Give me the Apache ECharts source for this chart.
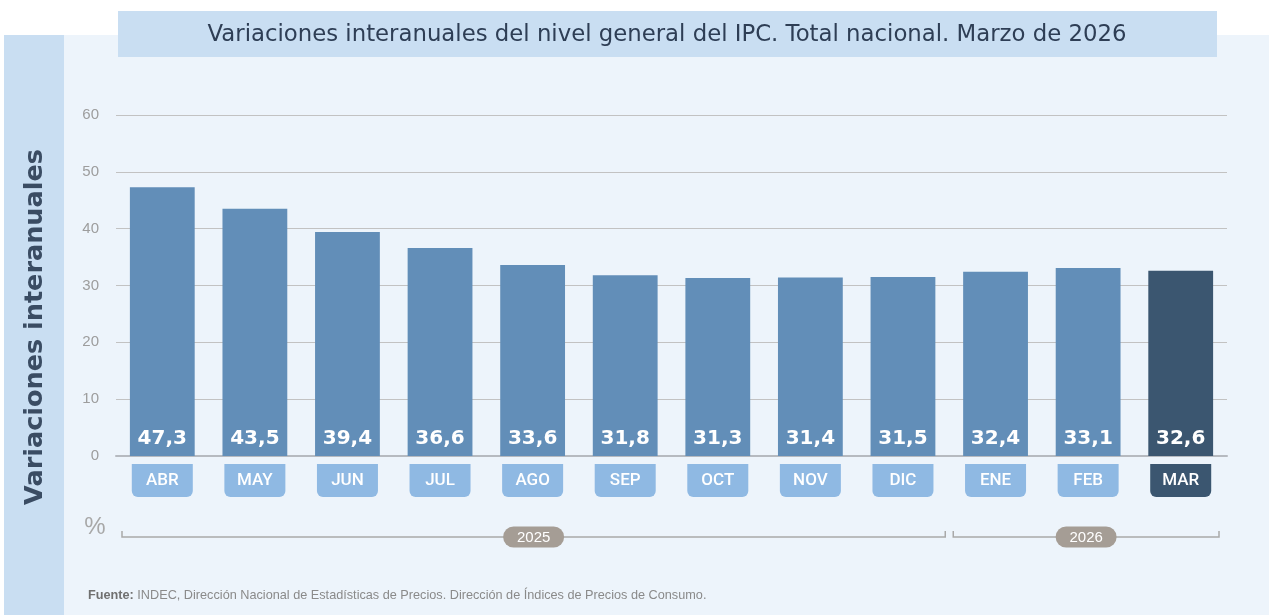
<!DOCTYPE html>
<html>
<head>
<meta charset="utf-8">
<script src="https://cdn.jsdelivr.net/npm/echarts@6/dist/echarts.min.js"></script>
<style>
  html, body { margin: 0; padding: 0; background: #fff; }
  #main { width: 1269px; height: 615px; }
</style>
</head>
<body>
<div id="main"></div>
<script>
const months = ['ABR', 'MAY', 'JUN', 'JUL', 'AGO', 'SEP', 'OCT', 'NOV', 'DIC', 'ENE', 'FEB', 'MAR'];
const values = [47.3, 43.5, 39.4, 36.6, 33.6, 31.8, 31.3, 31.4, 31.5, 32.4, 33.1, 32.6];
const monthYear = ['2025', '2025', '2025', '2025', '2025', '2025', '2025', '2025', '2025', '2026', '2026', '2026'];
const yTicks = [0, 10, 20, 30, 40, 50, 60];

const lastIdx = months.length - 1;
const barColor = '#628eb8';
const barDark = '#3b5670';
const monthFont = "Roboto, 'Noto Sans', sans-serif";

let chart = echarts.init(document.getElementById('main'));

chart.setOption({
  animation: false,
  backgroundColor: '#ffffff',
  grid: { left: 116, right: 42, top: 115, bottom: 159 },
  xAxis: {
    type: 'category',
    data: months,
    axisTick: { show: false },
    axisLine: { lineStyle: { color: '#b6bac0', width: 2 } },
    axisLabel: {
      margin: 8,
      interval: 0,
      formatter: (v, i) => (i === lastIdx ? '{d|' + v + '}' : '{l|' + v + '}'),
      rich: {
        l: {
          width: 61, height: 33, lineHeight: 33, align: 'center',
          backgroundColor: '#8fb9e3', borderRadius: [0, 0, 6, 6],
          color: '#fff', fontSize: 17, fontWeight: 500, fontFamily: monthFont
        },
        d: {
          width: 61, height: 33, lineHeight: 33, align: 'center',
          backgroundColor: barDark, borderRadius: [0, 0, 6, 6],
          color: '#fff', fontSize: 17, fontWeight: 500, fontFamily: monthFont
        }
      }
    }
  },
  yAxis: {
    type: 'value',
    min: yTicks[0],
    max: yTicks[yTicks.length - 1],
    interval: 10,
    axisLine: { show: false },
    axisTick: { show: false },
    axisLabel: { margin: 17, color: '#9d9d9d', fontSize: 15, fontFamily: 'Arial, Liberation Sans, sans-serif' },
    splitLine: { lineStyle: { color: '#c2c2c2', width: 1.2 } }
  },
  series: [
    {
      type: 'bar',
      barWidth: '70%',
      data: values.map((v, i) => ({
        value: v,
        itemStyle: { color: i === lastIdx ? barDark : barColor }
      })),
      label: {
        show: true,
        position: 'insideBottom',
        distance: 7,
        color: '#ffffff',
        fontSize: 20,
        fontWeight: 'bold',
        fontFamily: "'DejaVu Sans', sans-serif",
        formatter: p => p.value.toFixed(1).replace('.', ',')
      }
    }
  ]
});

// year brackets below the month labels
const groups = [];
monthYear.forEach((y, i) => {
  const g = groups[groups.length - 1];
  if (g && g.year === y) g.end = i;
  else groups.push({ year: y, start: i, end: i });
});

const c0 = chart.convertToPixel({ xAxisIndex: 0 }, 0);
const c1 = chart.convertToPixel({ xAxisIndex: 0 }, 1);
const band = c1 - c0;
const lineY = 537;

const graphics = [
  // panels
  { type: 'rect', z: -10, shape: { x: 4, y: 35, width: 60, height: 580 }, style: { fill: '#c9def2' } },
  { type: 'rect', z: -10, shape: { x: 64, y: 35, width: 1205, height: 580 }, style: { fill: '#edf4fb' } },
  { type: 'rect', z: -9, shape: { x: 118, y: 11, width: 1099, height: 46 }, style: { fill: '#c9def2' } },
  {
    type: 'text', x: 667, y: 35, z: 5,
    style: {
      text: 'Variaciones interanuales del nivel general del IPC. Total nacional. Marzo de 2026',
      fill: '#2e3e55', fontSize: 22.8, fontFamily: "'DejaVu Sans', sans-serif",
      align: 'center', verticalAlign: 'middle'
    }
  },
  {
    type: 'text', x: 35, y: 327, rotation: Math.PI / 2, z: 5,
    style: {
      text: 'Variaciones interanuales',
      fill: '#3a4c63', fontSize: 25.5, fontWeight: 'bold', fontFamily: "'DejaVu Sans', sans-serif",
      align: 'center', verticalAlign: 'middle'
    }
  },
  {
    type: 'text', x: 95, y: 527, z: 5,
    style: { text: '%', fill: '#a8a8a8', fontSize: 24, fontFamily: 'Arial, Liberation Sans, sans-serif', align: 'center', verticalAlign: 'middle' }
  },
  {
    type: 'text', x: 88, y: 595, z: 5,
    style: {
      text: '{b|Fuente:} INDEC, Dirección Nacional de Estadísticas de Precios. Dirección de Índices de Precios de Consumo.',
      fill: '#8a8a8a', fontSize: 12.7, fontFamily: 'Arial, Liberation Sans, sans-serif', verticalAlign: 'middle',
      rich: { b: { fontWeight: 'bold', fill: '#707070', fontSize: 12.7, fontFamily: 'Arial, Liberation Sans, sans-serif' } }
    }
  }
];

groups.forEach((g, k) => {
  const left = chart.convertToPixel({ xAxisIndex: 0 }, g.start) - band / 2 + (k === 0 ? 6 : 4);
  const right = chart.convertToPixel({ xAxisIndex: 0 }, g.end) + band / 2 - (k === groups.length - 1 ? 8 : 4);
  const mid = (left + right) / 2;
  graphics.push({
    type: 'polyline', z: 5,
    shape: { points: [[left, lineY - 6], [left, lineY], [right, lineY], [right, lineY - 6]] },
    style: { stroke: '#a9a9a9', lineWidth: 1.5, fill: null }
  });
  graphics.push({
    type: 'rect', z: 6,
    shape: { x: mid - 30.5, y: lineY - 10.5, width: 61, height: 21, r: 10.5 },
    style: { fill: '#a59d95' }
  });
  graphics.push({
    type: 'text', x: mid, y: lineY + 0.5, z: 7,
    style: { text: g.year, fill: '#ffffff', fontSize: 15, fontFamily: 'Arial, Liberation Sans, sans-serif', align: 'center', verticalAlign: 'middle' }
  });
});

chart.setOption({ graphic: graphics });
</script>
</body>
</html>
